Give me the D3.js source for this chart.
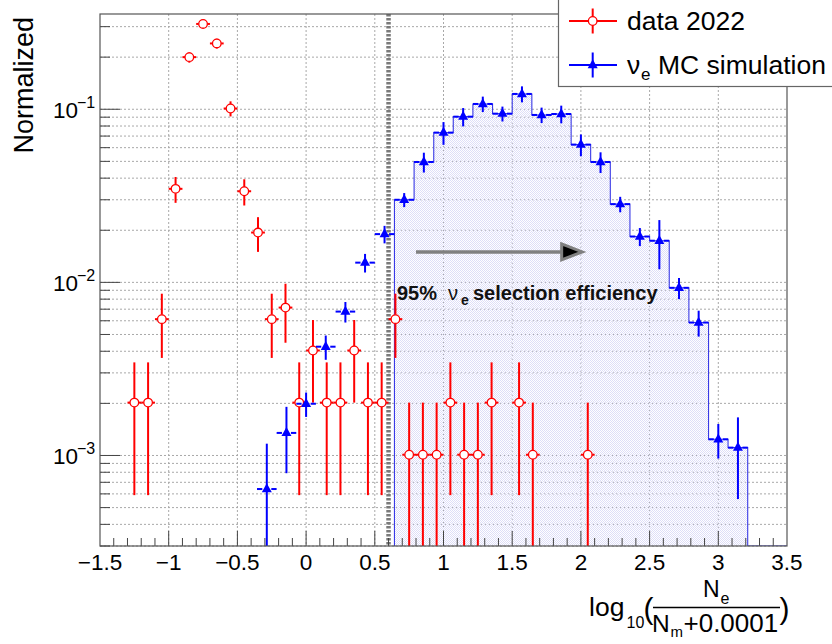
<!DOCTYPE html>
<html>
<head>
<meta charset="utf-8">
<script src="https://cdn.jsdelivr.net/npm/d3@7"></script>
<style>
  body { margin: 0; background: #fff; }
  svg { display: block; font-family: "Liberation Sans", Arial, sans-serif; }
</style>
</head>
<body>
<svg id="chart" width="832" height="644"></svg>
<script>
// data 2022 (bins of 0.1)
const dataX = [-1.25, -1.15, -1.05, -0.95, -0.85, -0.75, -0.65, -0.55, -0.45, -0.35,
  -0.25, -0.15, -0.05, 0.05, 0.15, 0.25, 0.35, 0.45, 0.55, 0.65,
  0.75, 0.85, 0.95, 1.05, 1.15, 1.25, 1.35, 1.55, 1.65, 2.05];
const dataY = [0.00202, 0.00202, 0.00613, 0.0347, 0.200, 0.311, 0.240, 0.101, 0.0336, 0.0194,
  0.00613, 0.00715, 0.00202, 0.00404, 0.00202, 0.00202, 0.00404, 0.00202, 0.00202, 0.00613,
  0.00101, 0.00101, 0.00101, 0.00202, 0.00101, 0.00101, 0.00202, 0.00202, 0.00101, 0.00101];
const dataErr = [0.00143, 0.00143, 0.00247, 0.0059, 0.0142, 0.0177, 0.0156, 0.0101, 0.0058, 0.0044,
  0.00247, 0.00267, 0.00143, 0.00202, 0.00143, 0.00143, 0.00202, 0.00143, 0.00143, 0.00247,
  0.00101, 0.00101, 0.00101, 0.00143, 0.00101, 0.00101, 0.00143, 0.00143, 0.00101, 0.00101];

// nu_e MC (bins of 1/7)
const mcX = [-0.286, -0.143, 0.000, 0.143, 0.286, 0.429, 0.571, 0.714, 0.857, 1.000,
  1.143, 1.286, 1.429, 1.571, 1.714, 1.857, 2.000, 2.143, 2.286, 2.429,
  2.571, 2.714, 2.857, 3.000, 3.143];
const mcY = [0.00064, 0.00135, 0.00199, 0.00425, 0.00678, 0.0130, 0.0190, 0.0300, 0.0496, 0.0733,
  0.0906, 0.1073, 0.0943, 0.1226, 0.0927, 0.0939, 0.0625, 0.0496, 0.0283, 0.0184,
  0.0174, 0.0093, 0.00586, 0.00124, 0.00111];
const mcErr = [0.00053, 0.00056, 0.00032, 0.00068, 0.00092, 0.0016, 0.0022, 0.0028, 0.0065, 0.011,
  0.011, 0.011, 0.0093, 0.013, 0.0095, 0.011, 0.009, 0.0068, 0.0029, 0.0022,
  0.0055, 0.0013, 0.001, 0.00028, 0.00055];

// selected MC histogram (x > 0.6)
const histEdges = [0.643, 0.786, 0.929, 1.071, 1.214, 1.357, 1.5, 1.643, 1.786, 1.929, 2.071,
  2.214, 2.357, 2.5, 2.643, 2.786, 2.929, 3.071, 3.214, 3.357, 3.5];
const histVals = [0.0300, 0.0496, 0.0733, 0.0906, 0.1073, 0.0943, 0.1226, 0.0927, 0.0939, 0.0625,
  0.0496, 0.0283, 0.0184, 0.0174, 0.0093, 0.00586, 0.00124, 0.00111, 0, 0];

const xTicks = [-1.5, -1, -0.5, 0, 0.5, 1, 1.5, 2, 2.5, 3, 3.5];
const xTickLabels = ["\u22121.5", "\u22121", "\u22120.5", "0", "0.5", "1", "1.5", "2", "2.5", "3", "3.5"];
const yMajor = [0.1, 0.01, 0.001];
const yMajorExp = ["\u22121", "\u22122", "\u22123"];

const cutX = 0.6;
const dataHalf = 0.05, mcHalf = 0.0714;

const svg = d3.select("#chart");
const L = 100, R = 787, T = 14, B = 546;
const yMin = 3e-4, yMax = 0.355;

const x = d3.scaleLinear().domain([-1.5, 3.5]).range([L, R]);
const y = d3.scaleLog().domain([yMin, yMax]).range([B, T]);
const yc = v => v <= yMin ? B + 5 : y(v);

const defs = svg.append("defs");
defs.append("clipPath").attr("id", "plot").append("rect")
  .attr("x", L).attr("y", T).attr("width", R - L).attr("height", B - T);
const pat = defs.append("pattern").attr("id", "hatch").attr("patternUnits", "userSpaceOnUse")
  .attr("width", 2).attr("height", 2);
pat.append("rect").attr("x", 0).attr("y", 0).attr("width", 1).attr("height", 1).attr("fill", "#dedef8");
pat.append("rect").attr("x", 1).attr("y", 1).attr("width", 1).attr("height", 1).attr("fill", "#dedef8");

// grid
const yGrid = [];
for (let e = -4; e <= 0; e++) for (let m = 1; m <= 9; m++) {
  const v = m * Math.pow(10, e);
  if (v > yMin && v < yMax) yGrid.push(v);
}
const grid = svg.append("g").attr("stroke", "#a8a8a8").attr("stroke-width", 1).attr("stroke-dasharray", "2,2");
grid.selectAll("line.h").data(yGrid).enter().append("line").attr("class", "h")
  .attr("x1", L).attr("x2", R).attr("y1", d => y(d)).attr("y2", d => y(d));
grid.selectAll("line.v").data(xTicks.slice(1, -1)).enter().append("line").attr("class", "v")
  .attr("x1", d => x(d)).attr("x2", d => x(d)).attr("y1", T).attr("y2", B);

const plot = svg.append("g").attr("clip-path", "url(#plot)");

// histogram fill + step line
const steps = [];
histVals.forEach((v, i) => {
  steps.push([histEdges[i], v]);
  steps.push([histEdges[i + 1], v]);
});
const area = d3.area().x(d => x(d[0])).y0(B).y1(d => yc(d[1]));
plot.append("path").datum(steps).attr("d", area).attr("fill", "url(#hatch)");
const lineStep = d3.line().x(d => x(d[0])).y(d => Math.min(yc(d[1]), B));
plot.append("path").datum([[histEdges[0], yMin]].concat(steps))
  .attr("d", lineStep).attr("fill", "none").attr("stroke", "#3a3ae6").attr("stroke-width", 1.1);

// cut line
plot.append("line").attr("x1", x(cutX)).attr("x2", x(cutX)).attr("y1", T).attr("y2", B)
  .attr("stroke", "#7a7a7a").attr("stroke-width", 4.5).attr("stroke-dasharray", "2.5,1.5");

// arrow
const arrY = 0.015;
plot.append("line").attr("x1", x(0.8)).attr("x2", x(1.86)).attr("y1", y(arrY)).attr("y2", y(arrY))
  .attr("stroke", "#808080").attr("stroke-width", 3.5);
plot.append("path")
  .attr("d", `M${x(1.86)},${y(arrY) - 8} L${x(2.01)},${y(arrY)} L${x(1.86)},${y(arrY) + 8} Z`)
  .attr("fill", "#000").attr("stroke", "#808080").attr("stroke-width", 3).attr("stroke-linejoin", "miter");

// annotation text
const ann = svg.append("text").attr("y", 300).attr("font-size", 20).attr("font-weight", "bold").attr("fill", "#111");
ann.append("tspan").attr("x", 397).text("95%");
ann.append("tspan").attr("x", 448).attr("font-weight", "normal").text("\u03bd");
ann.append("tspan").attr("x", 461).attr("dy", 5).attr("font-size", 14).text("e");
ann.append("tspan").attr("x", 473).attr("dy", -5).text("selection efficiency");

// data 2022 points
const red = "#ff0000", r = 4.3;
const gD = plot.append("g").attr("stroke", red).attr("stroke-width", 2);
dataX.forEach((xv, i) => {
  const cx = x(xv), cy = y(dataY[i]);
  const top = y(dataY[i] + dataErr[i]);
  const bot = yc(dataY[i] - dataErr[i]);
  if (cy - top > r) gD.append("line").attr("x1", cx).attr("x2", cx).attr("y1", cy - r).attr("y2", top);
  if (bot - cy > r) gD.append("line").attr("x1", cx).attr("x2", cx).attr("y1", cy + r).attr("y2", bot);
  gD.append("line").attr("x1", x(xv - dataHalf)).attr("x2", cx - r).attr("y1", cy).attr("y2", cy);
  gD.append("line").attr("x1", cx + r).attr("x2", x(xv + dataHalf)).attr("y1", cy).attr("y2", cy);
});
plot.selectAll("circle.d").data(dataX).enter().append("circle").attr("class", "d")
  .attr("cx", d => x(d)).attr("cy", (d, i) => y(dataY[i])).attr("r", r)
  .attr("fill", "#fff").attr("stroke", red).attr("stroke-width", 1.3);

// MC points
const blue = "#0000ff", tr = 4.5;
const tri = "M0,-5.8 L5,3.2 L-5,3.2 Z";
const gM = plot.append("g").attr("stroke", blue).attr("stroke-width", 2);
mcX.forEach((xv, i) => {
  const cx = x(xv), cy = y(mcY[i]);
  gM.append("line").attr("x1", cx).attr("x2", cx)
    .attr("y1", y(mcY[i] + mcErr[i])).attr("y2", yc(mcY[i] - mcErr[i]));
  gM.append("line").attr("x1", x(xv - mcHalf)).attr("x2", cx - tr).attr("y1", cy).attr("y2", cy);
  gM.append("line").attr("x1", cx + tr).attr("x2", x(xv + mcHalf)).attr("y1", cy).attr("y2", cy);
});
plot.selectAll("path.m").data(mcX).enter().append("path").attr("class", "m")
  .attr("d", tri).attr("transform", (d, i) => `translate(${x(d)},${y(mcY[i])})`).attr("fill", blue);

// axes ticks
const axisCol = "#444";
const ax = svg.append("g").attr("stroke", axisCol).attr("stroke-width", 1);
const xMinor = d3.range(-14, 35).map(k => k / 10).filter(v => v > -1.5 && v < 3.5);
ax.selectAll("line.xm").data(xMinor).enter().append("line")
  .attr("x1", d => x(d)).attr("x2", d => x(d)).attr("y1", B)
  .attr("y2", d => Math.abs(d * 2 - Math.round(d * 2)) < 1e-6 ? B - 15 : B - 8);
ax.selectAll("line.ym").data(yGrid).enter().append("line")
  .attr("x1", L).attr("y1", d => y(d)).attr("y2", d => y(d))
  .attr("x2", d => yMajor.some(m => Math.abs(m - d) / m < 1e-6) ? L + 20 : L + 10);

// frame
svg.append("rect").attr("x", L).attr("y", T).attr("width", R - L).attr("height", B - T)
  .attr("fill", "none").attr("stroke", "#555").attr("stroke-width", 1.2);

// tick labels
svg.selectAll("text.xl").data(xTicks).enter().append("text").attr("class", "xl")
  .attr("x", d => x(d)).attr("y", 570).attr("text-anchor", "middle")
  .attr("font-size", 22.5).text((d, i) => xTickLabels[i]);
yMajor.forEach((v, i) => {
  const t = svg.append("text").attr("y", y(v) + 9).attr("font-size", 22.5);
  t.append("tspan").attr("x", 53).text("10");
  t.append("tspan").attr("x", 77).attr("dy", -10).attr("font-size", 16).text(yMajorExp[i]);
});

// axis titles
svg.append("text").attr("transform", "translate(33,17) rotate(-90)")
  .attr("text-anchor", "end").attr("font-size", 27).text("Normalized");

const xt = svg.append("g").attr("fill", "#000");
xt.append("text").attr("x", 589).attr("y", 616).attr("font-size", 26.5).text("log");
xt.append("text").attr("x", 626.5).attr("y", 628).attr("font-size", 16).text("10");
xt.append("text").attr("x", 643.5).attr("y", 619).attr("font-size", 30).text("(");
xt.append("text").attr("x", 779.5).attr("y", 619).attr("font-size", 30).text(")");
xt.append("line").attr("x1", 653).attr("x2", 780).attr("y1", 607.5).attr("y2", 607.5)
  .attr("stroke", "#000").attr("stroke-width", 1.5);
xt.append("text").attr("x", 703).attr("y", 597).attr("font-size", 23).text("N");
xt.append("text").attr("x", 720.5).attr("y", 603.5).attr("font-size", 16).text("e");
xt.append("text").attr("x", 652).attr("y", 632).attr("font-size", 24.5).text("N");
xt.append("text").attr("x", 670.5).attr("y", 637).attr("font-size", 15).text("m");
xt.append("text").attr("x", 683.5).attr("y", 632).attr("font-size", 26).text("+0.0001");

// legend
const lg = svg.append("g");
lg.append("rect").attr("x", 558.5).attr("y", -2).attr("width", 290).attr("height", 88.5)
  .attr("fill", "#fff").attr("stroke", "#666").attr("stroke-width", 1.2);
const legItems = [
  { label: "data 2022", col: red, yy: 21, base: 30 },
  { label: "MC simulation", col: blue, yy: 65, base: 74 }
];
legItems.forEach((it, i) => {
  lg.append("line").attr("x1", 569).attr("x2", 617).attr("y1", it.yy).attr("y2", it.yy)
    .attr("stroke", it.col).attr("stroke-width", 2);
  lg.append("line").attr("x1", 592.7).attr("x2", 592.7).attr("y1", it.yy - 12.5).attr("y2", it.yy + 12.5)
    .attr("stroke", it.col).attr("stroke-width", 2);
  if (i === 0) {
    lg.append("circle").attr("cx", 592.7).attr("cy", it.yy).attr("r", r)
      .attr("fill", "#fff").attr("stroke", red).attr("stroke-width", 1.3);
    lg.append("text").attr("x", 627).attr("y", it.base).attr("font-size", 26.5).text(it.label);
  } else {
    lg.append("path").attr("d", tri).attr("transform", `translate(592.7,${it.yy})`).attr("fill", blue);
    const t = lg.append("text").attr("y", it.base).attr("font-size", 26.5);
    t.append("tspan").attr("x", 627).text("\u03bd");
    t.append("tspan").attr("x", 641).attr("dy", 6).attr("font-size", 17).text("e");
    t.append("tspan").attr("x", 658).attr("dy", -6).text(it.label);
  }
});
</script>
</body>
</html>
